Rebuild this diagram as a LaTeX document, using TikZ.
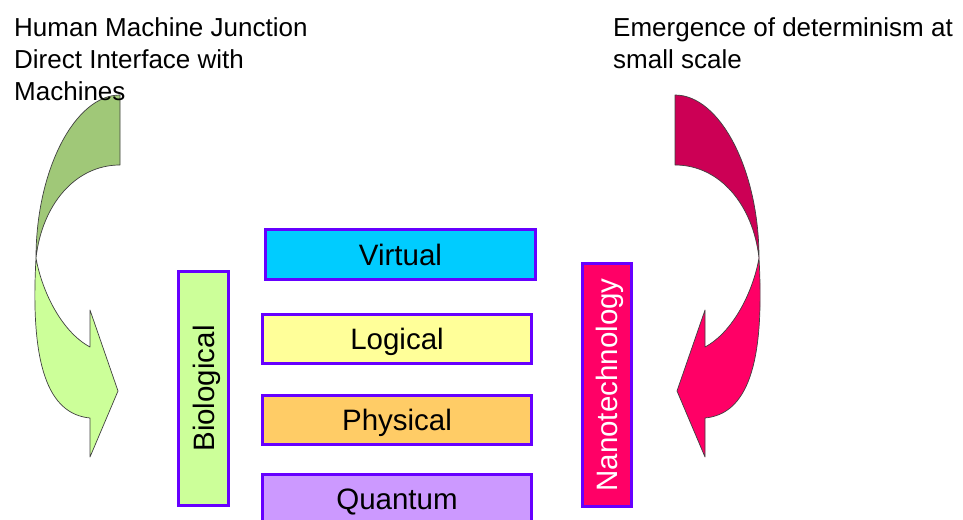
\documentclass[tikz,border=0pt]{standalone}
\usepackage{fontspec}
\setmainfont{Liberation Sans}
\definecolor{edge}{RGB}{102,0,255}
\definecolor{virtualc}{RGB}{0,204,255}
\definecolor{logicalc}{RGB}{255,255,153}
\definecolor{physicalc}{RGB}{255,204,102}
\definecolor{quantumc}{RGB}{204,153,255}
\definecolor{bioc}{RGB}{204,255,153}
\definecolor{nanoc}{RGB}{255,0,102}
\definecolor{leafdark}{RGB}{160,200,120}
\definecolor{leaflight}{RGB}{204,255,153}
\definecolor{rosedark}{RGB}{204,0,85}
\definecolor{roselight}{RGB}{255,0,102}

\begin{document}
\begin{tikzpicture}[x=1pt, y=-1pt,
    layer/.style={draw=edge, line width=3pt, inner sep=0pt, text height=21pt, text depth=0pt,
        font=\fontsize{29.5}{30}\selectfont, minimum width=269pt, minimum height=49pt},
    note/.style={inner sep=0pt, align=left, font=\fontsize{26}{32}\selectfont},
    outline/.style={draw=black!75, line width=0.7pt, line join=round}]

    \useasboundingbox (0,0) rectangle (963,519);

    % curved arrows (the right one is the mirror of the left one)
    \foreach \dx/\sx/\dk/\lt in {0/1/leafdark/leaflight, 795/-1/rosedark/roselight} {
        \begin{scope}[xshift=\dx pt, xscale=\sx]
            % lower half with the head
            \filldraw[fill=\lt, outline] (36,258) .. controls (30,365) and (48,414) .. (90,418)
                -- (90,457) -- (118,391) -- (90,310) -- (90,347)
                .. controls (62,332) and (42,292) .. (36,258);
            % upper half
            \filldraw[fill=\dk, outline] (120,95) .. controls (75,95) and (36,170) .. (36,258)
                .. controls (42,205) and (75,165) .. (120,165) -- cycle;
        \end{scope}
    }

    % captions (anchored at the baseline of the last line)
    \node[note, anchor=base west] (hmj) at (14,100) {Human Machine Junction\\Direct Interface with\\Machines};
    \node[note, anchor=base west] (emerge) at (613,68) {Emergence of determinism at\\small scale};

    % layers
    \node[layer, fill=virtualc, minimum width=270pt, minimum height=50pt] (virtual) at (400.5,254.5) {Virtual};
    \node[layer, fill=logicalc] (logical) at (397,339) {Logical};
    \node[layer, fill=physicalc] (physical) at (397,420) {Physical};
    \node[layer, fill=quantumc] (quantum) at (397,499) {Quantum};

    % side bars
    \node[layer, fill=bioc, rotate=90, minimum width=234pt, minimum height=50pt] (bio) at (203.5,388.5) {Biological};
    \node[layer, fill=nanoc, text=white, rotate=90, minimum width=243pt, minimum height=49pt] (nano) at (607,385) {Nanotechnology};
\end{tikzpicture}
\end{document}
